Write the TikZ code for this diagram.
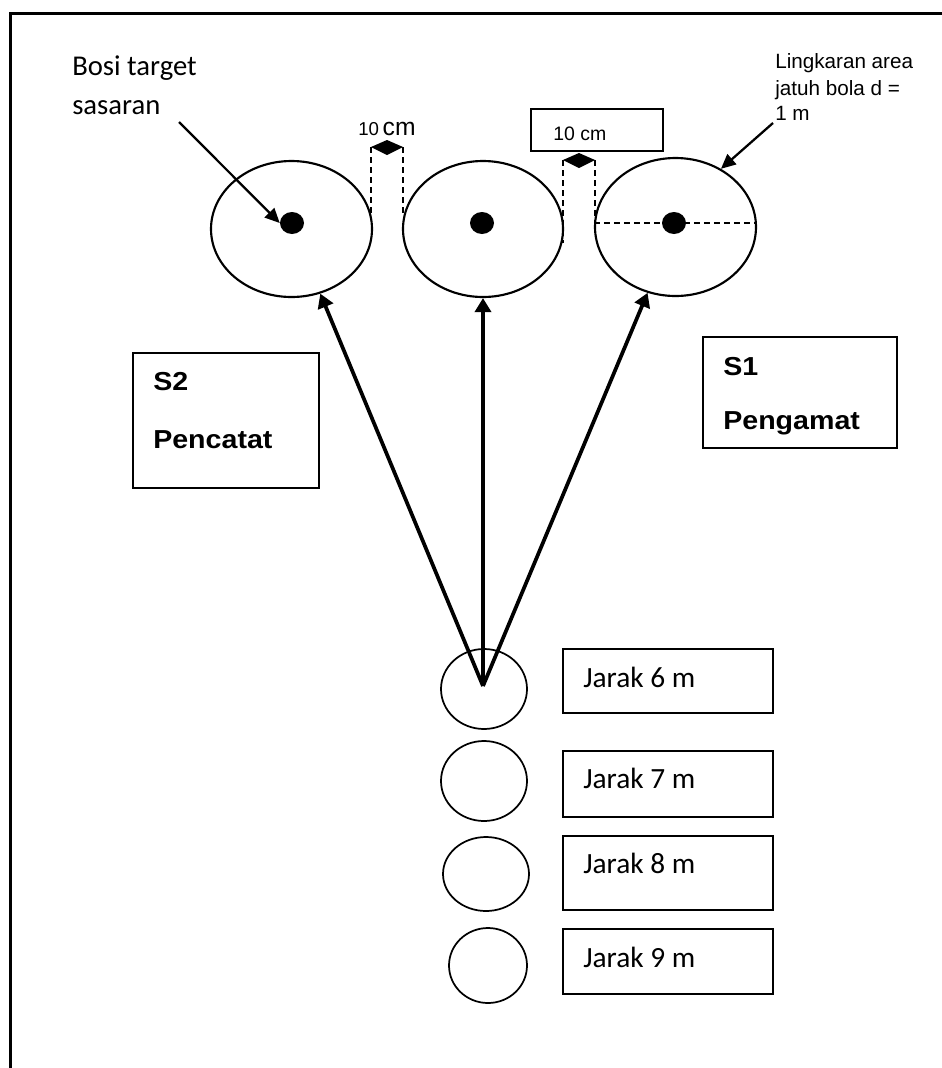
\documentclass[tikz,border=0pt]{standalone}
\usepackage{fontspec}
\setmainfont{Liberation Sans}
\newfontfamily\calfont{Carlito}
\newfontfamily\sfwide[FakeStretch=1.1]{Liberation Sans}
\usetikzlibrary{shapes.geometric,arrows.meta}
\begin{document}
\begin{tikzpicture}[x=0.75pt,y=-0.75pt,
  ell/.style={draw, ellipse, line width=1.6pt, inner sep=0pt},
  dot/.style={fill, ellipse, inner sep=0pt, minimum width=18pt, minimum height=16.5pt},
  ring/.style={draw, ellipse, line width=1.3pt, inner sep=0pt, minimum width=64.5pt, minimum height=60pt},
  boxn/.style={draw, rectangle, line width=1pt, inner sep=0pt},
  jbox/.style={boxn, minimum width=157.5pt},
  dashln/.style={dash pattern=on 4.5pt off 3pt, line width=1.1pt},
  bigarrow/.style={line width=2.8pt, -{Triangle[length=10.5pt,width=12pt]}},
  thinarrow/.style={line width=1.7pt, -{Triangle[length=11pt,width=10pt]}},
  caltext/.style={font=\calfont\fontsize{21.5}{25}\selectfont, anchor=base west, inner sep=0pt},
  artext/.style={font=\fontsize{15.5}{19}\selectfont, anchor=base west, inner sep=0pt},
  stext/.style={font=\sfwide\bfseries\fontsize{19.5}{23}\selectfont, anchor=base west, inner sep=0pt}
]
\useasboundingbox (0,0) rectangle (942,1068);
\clip (0,0) rectangle (942,1068);
\fill[white] (0,0) rectangle (942,1068);
% frame
\draw[line width=2.2pt] (10.7,1068) -- (10.7,13.3) -- (942,13.3);

% target ellipses
\node[ell, minimum width=120.75pt, minimum height=102pt] (L) at (291.5,229) {};
\node[ell, minimum width=120pt, minimum height=102pt] (M) at (483,229) {};
\node[ell, minimum width=120.75pt, minimum height=103.5pt] (R) at (675.5,227) {};
\node[dot] (DL) at (292,223) {};
\node[dot] (DM) at (482,223) {};
\node[dot] (DR) at (674,223) {};

% diameter dashed line
\draw[dashln] (R.west |- DR.center) -- (R.east |- DR.center);

% gap 1
\draw[dashln] (371,147) -- (371,213);
\draw[dashln] (403,147) -- (403,213);
\fill (371,147) -- (387,140) -- (403,147) -- (387,155) -- cycle;
\node[anchor=base west, inner sep=0pt] (g1t) at (358,135)
  {{\fontsize{14}{16}\selectfont 10} {\fontsize{18.5}{20}\selectfont cm}};

% gap 2
\draw[dashln] (563,160) -- (563,243);
\draw[dashln] (595,160) -- (595,222);
\fill (563,160) -- (579,153) -- (595,160) -- (579,168) -- cycle;
\node[boxn, minimum width=99pt, minimum height=31.5pt] (G2) at (597,130) {};
\node[artext, font=\fontsize{14.6}{17}\selectfont] (g2t) at (553,140) {10 cm};

% labels top
\node[caltext] (bos1) at (72,75) {Bosi target};
\node[caltext] (bos2) at (72,114) {sasaran};
\coordinate (bs) at (179,122);
\draw[thinarrow] (bs) -- (DL.west);

\node[artext] (lk1) at (775,68) {Lingkaran area};
\node[artext] (lk2) at (775,95) {jatuh bola d =};
\node[artext] (lk3) at (775,120) {1 m};
\coordinate (ls) at (773,123);
\draw[thinarrow] (ls) -- (R.52);

% S boxes
\node[boxn, minimum width=139.5pt, minimum height=101.25pt] (S2) at (226,420.5) {};
\node[stext] (s2a) at (153,390) {S2};
\node[stext] (s2b) at (153,448) {Pencatat};
\node[boxn, minimum width=145.5pt, minimum height=83.25pt] (S1) at (800,392.5) {};
\node[stext] (s1a) at (723,375) {S1};
\node[stext] (s1b) at (723,429) {Pengamat};

% throwing positions
\node[ring] (C1) at (484,689) {};
\node[ring] (C2) at (484,781) {};
\node[ring, minimum height=55.5pt] (C3) at (486,874) {};
\node[ring, minimum width=58.5pt, minimum height=56.25pt] (C4) at (488,965.5) {};

\node[jbox, minimum height=48pt] (B1) at (668,681) {};
\node[jbox, minimum height=49.5pt] (B2) at (668,784) {};
\node[jbox, minimum height=55.5pt] (B3) at (668,873) {};
\node[jbox, minimum height=48.75pt] (B4) at (668,961.5) {};
\node[caltext, font=\calfont\fontsize{22}{25}\selectfont] (j1) at (583,687) {Jarak 6 m};
\node[caltext, font=\calfont\fontsize{22}{25}\selectfont] (j2) at (583,788) {Jarak 7 m};
\node[caltext, font=\calfont\fontsize{22}{25}\selectfont] (j3) at (583,873) {Jarak 8 m};
\node[caltext, font=\calfont\fontsize{22}{25}\selectfont] (j4) at (583,967) {Jarak 9 m};

% arrows
\coordinate (src) at (483,686);
\draw[bigarrow] (src) -- (L.-66);
\draw[bigarrow] (src) -- (M.south);
\draw[bigarrow] (src) -- (R.-113);
\end{tikzpicture}
\end{document}
